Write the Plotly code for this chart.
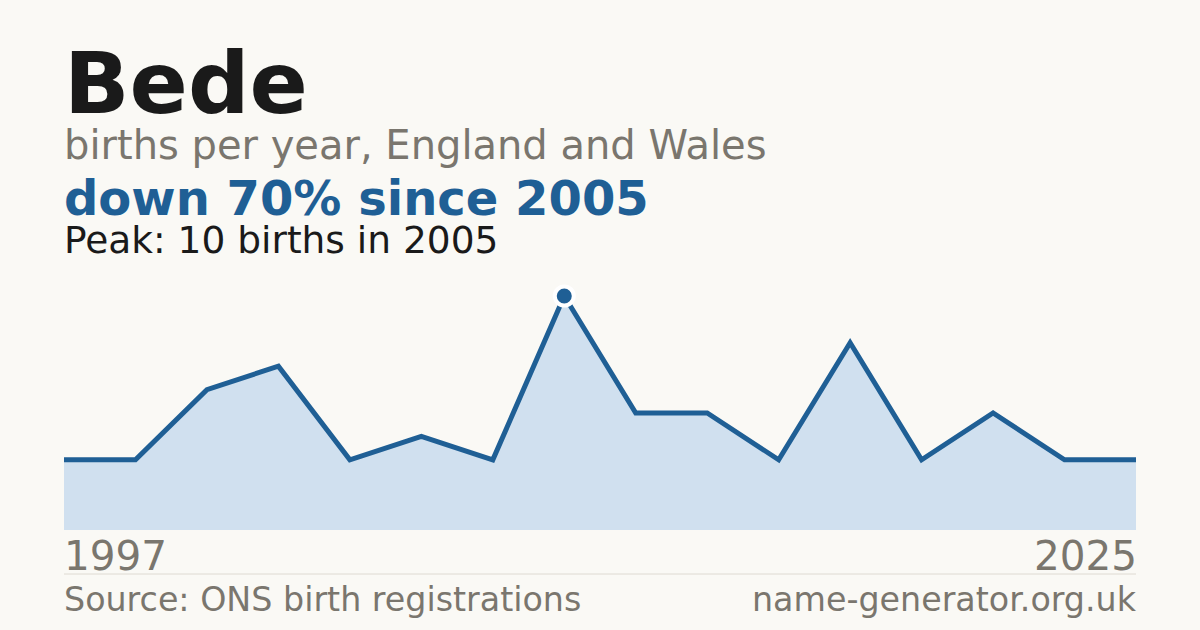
import plotly.graph_objects as go

# Births per year for the name "Bede"
years = [1997, 1998, 2000, 2001, 2002, 2003, 2004, 2005,
         2006, 2007, 2009, 2012, 2015, 2017, 2020, 2025]
births = [3, 3, 6, 7, 3, 4, 3, 10, 5, 5, 3, 8, 3, 5, 3, 3]
peak_year = 2005
peak_births = 10

BG = '#faf9f5'
BLUE = '#1f5f95'
FILL = '#d0e0ef'
GREY = '#7a766e'
FONT = 'DejaVu Sans'

# Pixel layout of the plot area
W, H = 1200, 630
L, R, T, B = 64, 64, 280, 100
plot_h = H - T - B


def py(y):
    # pixel y -> paper y
    return (H - B - y) / plot_h


x_cats = [str(y) for y in years]
peak_idx = years.index(peak_year)

fig = go.Figure()
fig.add_trace(go.Scatter(
    x=x_cats,
    y=births,
    mode='lines',
    line=dict(color=BLUE, width=5),
    fill='tozeroy',
    fillcolor=FILL,
    hoverinfo='skip',
))
fig.add_trace(go.Scatter(
    x=[x_cats[peak_idx]],
    y=[peak_births],
    mode='markers',
    marker=dict(size=19, color=BLUE, line=dict(color='#ffffff', width=4)),
    hoverinfo='skip',
))

annotations = [
    dict(text='<b>Bede</b>', x=0, y=py(135), xanchor='left', yanchor='bottom',
         font=dict(size=86, color='#1a1a1a')),
    dict(text='births per year, England and Wales', x=0, y=py(170),
         xanchor='left', yanchor='bottom', font=dict(size=40, color=GREY)),
    dict(text='<b>down 70% since 2005</b>', x=0, y=py(228),
         xanchor='left', yanchor='bottom', font=dict(size=48, color=BLUE)),
    dict(text=f'Peak: {peak_births} births in {peak_year}', x=0, y=py(264),
         xanchor='left', yanchor='bottom', font=dict(size=37.5, color='#1a1a1a')),
    dict(text=str(years[0]), x=0, y=py(530), xanchor='left', yanchor='top',
         font=dict(size=40.5, color=GREY)),
    dict(text=str(years[-1]), x=1, y=py(530), xanchor='right', yanchor='top',
         font=dict(size=40.5, color=GREY)),
    dict(text='Source: ONS birth registrations', x=0, y=py(578),
         xanchor='left', yanchor='top', font=dict(size=33.3, color=GREY)),
    dict(text='name-generator.org.uk', x=1, y=py(578),
         xanchor='right', yanchor='top', font=dict(size=33.3, color=GREY)),
]
for a in annotations:
    a.update(xref='paper', yref='paper', showarrow=False,
             xshift=-2 if a['xanchor'] == 'left' else 3)

fig.update_layout(
    width=W, height=H,
    margin=dict(l=L, r=R, t=T, b=B, pad=0),
    paper_bgcolor=BG,
    plot_bgcolor=BG,
    showlegend=False,
    font=dict(family=FONT),
    annotations=annotations,
    shapes=[dict(type='line', xref='paper', yref='paper',
                 x0=0, x1=1, y0=py(574), y1=py(574),
                 line=dict(color='#dedad2', width=1))],
)
fig.update_xaxes(type='category', range=[0, len(years) - 1],
                 visible=False, fixedrange=True)
fig.update_yaxes(range=[0, (H - B - T) / 23.4], visible=False, fixedrange=True)

fig.write_html("out.html", config={'displayModeBar': False},
               post_script="document.body.style.margin='0';")
